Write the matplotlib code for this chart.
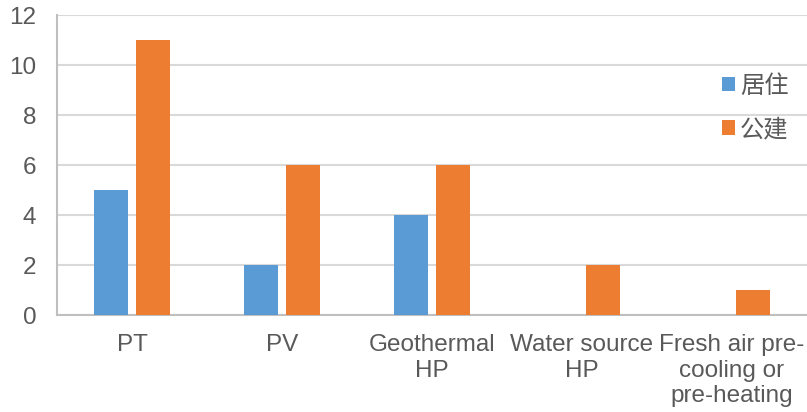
import matplotlib.pyplot as plt
import numpy as np

plt.rcParams['font.family'] = ['Liberation Sans', 'Noto Sans CJK SC', 'DejaVu Sans']

categories = ['PT', 'PV', 'Geothermal\nHP', 'Water source\nHP',
              'Fresh air pre-\ncooling or\npre-heating']
residential = [5, 2, 4, 0, 0]
public = [11, 6, 6, 2, 1]
series_names = ['居住', '公建']

blue = '#5B9BD5'
orange = '#ED7D31'
text_grey = '#595959'

fig = plt.figure(figsize=(8.07, 4.12), dpi=100)
ax = fig.add_axes([57 / 807, 97 / 412, 750 / 807, 300 / 412])

x = np.arange(len(categories))
w = 0.227
ax.bar(x - 0.143, residential, w, color=blue, label=series_names[0], zorder=3)
ax.bar(x + 0.143, public, w, color=orange, label=series_names[1], zorder=3)

ax.set_xlim(-0.5, len(categories) - 0.5)
ax.set_ylim(0, 12)
ax.set_yticks(range(0, 13, 2))
ax.set_xticks(x)
ax.set_xticklabels(categories, linespacing=1.2)
ax.tick_params(axis='both', length=0, colors=text_grey, labelsize=17.5)
ax.tick_params(axis='x', pad=14)
ax.tick_params(axis='y', pad=15)
ax.yaxis.grid(True, color='#D9D9D9', linewidth=1.5, zorder=0)

for side in ['top', 'right']:
    ax.spines[side].set_visible(False)
for side in ['left', 'bottom']:
    ax.spines[side].set_color('#BFBFBF')
    ax.spines[side].set_linewidth(1.5)

leg = ax.legend(loc='center left', bbox_to_anchor=(0.887, 0.69), frameon=False,
                fontsize=17.5, labelspacing=0.85, handlelength=0.54,
                handleheight=0.54, handletextpad=0.2, borderpad=0,
                borderaxespad=0)
for t in leg.get_texts():
    t.set_color(text_grey)

fig.savefig('out.png', dpi=100)
